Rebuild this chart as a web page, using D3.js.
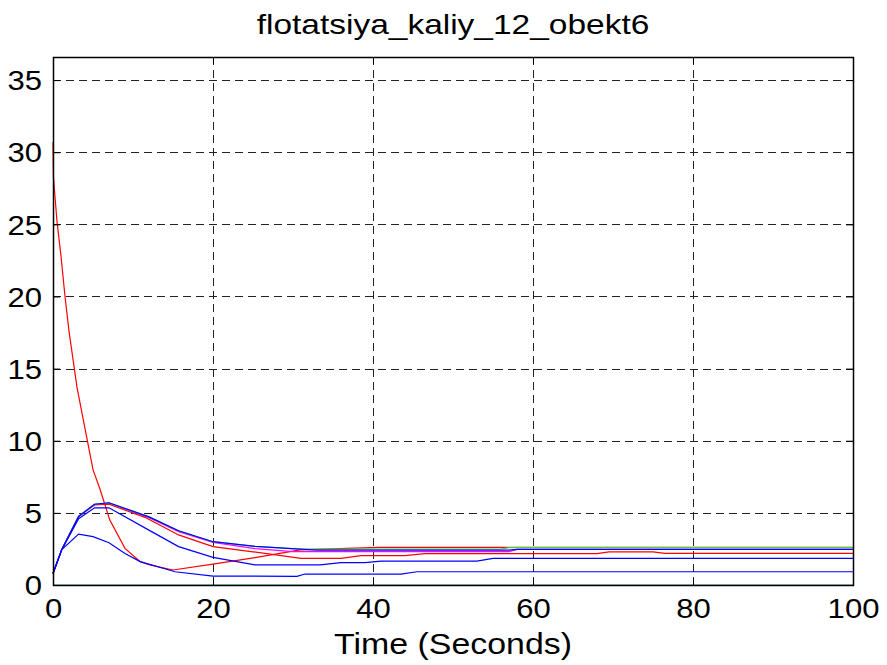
<!DOCTYPE html>
<html><head><meta charset="utf-8">
<script src="https://cdn.jsdelivr.net/npm/d3@7/dist/d3.min.js"></script>
<style>body{margin:0;background:#fff}svg{display:block}</style>
</head><body>
<svg id="c" width="887" height="665"></svg>
<script>
const title = "flotatsiya_kaliy_12_obekt6";
const xLabel = "Time (Seconds)";
const xTicks = [0, 20, 40, 60, 80, 100];
const yTicks = [0, 5, 10, 15, 20, 25, 30, 35];
const xDomain = [0, 100];
const yDomain = [0, 36.6];

// series: time points and values
const redA_t = [0, 0.05, 0.5, 1, 1.5, 2, 3, 5, 5.9, 7.1, 9, 10.9, 12.1, 15, 20, 25.25, 30.9, 40.7, 100];
const redA_v = [30.7, 28.3, 25.2, 22.8, 20, 17.6, 13.7, 8.0, 6.6, 4.5, 2.54, 1.62, 1.39, 1.04, 1.45, 1.9, 2.43, 2.61, 2.61];

const redB_t = [0, 1.1, 3.2, 5.2, 7, 11.5, 15.7, 20, 25, 31, 36, 38.5, 44, 46.5, 68, 69.5, 75, 76.5, 100];
const redB_v = [0.8, 2.47, 4.75, 5.55, 5.6, 4.69, 3.47, 2.66, 2.3, 1.85, 1.85, 2.03, 2.03, 2.17, 2.17, 2.3, 2.3, 2.19, 2.19];

const magenta_t = [0, 1.1, 3.2, 5.2, 7, 12, 15.7, 20, 25.25, 30, 57, 58, 100];
const magenta_v = [0.8, 2.47, 4.75, 5.6, 5.68, 4.67, 3.7, 2.95, 2.52, 2.31, 2.31, 2.47, 2.47];

const green_t = [0, 1.1, 3.2, 5.2, 7, 12, 15.7, 20, 25.25, 30.9, 56, 57, 100];
const green_v = [0.8, 2.47, 4.75, 5.6, 5.7, 4.72, 3.76, 3.0, 2.68, 2.49, 2.49, 2.59, 2.59];

const blueE_t = [0, 1.1, 3.2, 5.2, 7, 12, 15.7, 20, 25.25, 30.9, 33, 57, 58, 100];
const blueE_v = [0.8, 2.47, 4.75, 5.6, 5.7, 4.72, 3.76, 3.0, 2.68, 2.49, 2.42, 2.42, 2.47, 2.47];

const blueM_t = [0, 1.1, 3.2, 5.2, 7, 12.1, 15.7, 20, 25.25, 33.4, 36, 39, 41, 53, 55, 100];
const blueM_v = [0.8, 2.45, 4.6, 5.35, 5.35, 3.77, 2.66, 1.92, 1.39, 1.39, 1.55, 1.55, 1.66, 1.66, 1.85, 1.85];

const blueL_t = [0, 1.1, 3.2, 5, 7, 9, 10.9, 15.25, 20, 30.5, 31.5, 43.5, 45.5, 100];
const blueL_v = [0.8, 2.45, 3.53, 3.35, 2.93, 2.19, 1.62, 0.92, 0.62, 0.6, 0.76, 0.76, 0.92, 0.92];

const cyan_t = [0, 100];
const cyan_v = [0, 0];

const series = [
  {t: redA_t, v: redA_v, color: "#ff0000"},
  {t: redB_t, v: redB_v, color: "#ff0000"},
  {t: magenta_t, v: magenta_v, color: "#ff00ff"},
  {t: green_t, v: green_v, color: "#33dd33"},
  {t: blueE_t, v: blueE_v, color: "#0000ff"},
  {t: blueM_t, v: blueM_v, color: "#0000ff"},
  {t: blueL_t, v: blueL_v, color: "#0000ff"},
  {t: cyan_t, v: cyan_v, color: "#20a8a8"}
];

const m = {left: 53, top: 57, right: 853, bottom: 585};
const svg = d3.select("#c");
const x = d3.scaleLinear().domain(xDomain).range([m.left, m.right]);
const y = d3.scaleLinear().domain(yDomain).range([m.bottom, m.top]);
const font = "Liberation Sans, Arial, Helvetica, sans-serif";

// grid
const grid = svg.append("g").attr("stroke", "#222").attr("stroke-width", 1).attr("stroke-dasharray", "8,5");
grid.selectAll("line.gx").data(xTicks.filter(d => d > xDomain[0] && d < xDomain[1])).join("line")
  .attr("class", "gx")
  .attr("x1", d => Math.round(x(d)) + 0.5).attr("x2", d => Math.round(x(d)) + 0.5)
  .attr("y1", m.top).attr("y2", m.bottom);
grid.selectAll("line.gy").data(yTicks.filter(d => d > yDomain[0])).join("line")
  .attr("class", "gy")
  .attr("y1", d => Math.round(y(d)) + 0.5).attr("y2", d => Math.round(y(d)) + 0.5)
  .attr("x1", m.left).attr("x2", m.right);

// lines
const plot = svg.append("g");
series.forEach(s => {
  const pts = s.t.map((t, i) => [t, s.v[i]]);
  plot.append("path").datum(pts)
    .attr("fill", "none").attr("stroke", s.color).attr("stroke-width", 1.2)
    .attr("d", d3.line().x(d => x(d[0])).y(d => y(d[1])));
});

// axes
const tl = 7;
const ax = svg.append("g").attr("font-family", font);
const gBottom = ax.append("g").attr("transform", `translate(0,${m.bottom})`)
  .call(d3.axisBottom(x).tickValues(xTicks).tickSize(-tl).tickPadding(12).tickFormat(d3.format("d")));
const gTop = ax.append("g").attr("transform", `translate(0,${m.top})`)
  .call(d3.axisTop(x).tickValues(xTicks).tickSize(-tl).tickFormat(""));
const gLeft = ax.append("g").attr("transform", `translate(${m.left},0)`)
  .call(d3.axisLeft(y).tickValues(yTicks).tickSize(-tl).tickPadding(11).tickFormat(d3.format("d")));
const gRight = ax.append("g").attr("transform", `translate(${m.right},0)`)
  .call(d3.axisRight(y).tickValues(yTicks).tickSize(-tl).tickFormat(""));
[gBottom, gTop, gLeft, gRight].forEach(g => {
  g.select(".domain").remove();
  g.selectAll("line").attr("stroke", "#000");
  g.selectAll("text").attr("fill", "#000").attr("font-size", 27).attr("font-family", font);
});
gLeft.selectAll("text").attr("x", 0).attr("dy", "0.36em")
  .attr("transform", "translate(-11,0) scale(1.15,1)");
gBottom.selectAll("text").attr("y", 0).attr("dy", 0)
  .attr("transform", "translate(0,33) scale(1.15,1)");
svg.append("rect").attr("x", m.left + 0.5).attr("y", m.top + 0.5)
  .attr("width", m.right - m.left).attr("height", m.bottom - m.top)
  .attr("fill", "none").attr("stroke", "#000").attr("stroke-width", 1.5);

svg.append("text").attr("text-anchor", "middle").attr("font-family", font).attr("font-size", 27)
  .attr("transform", `translate(${(m.left + m.right) / 2},34) scale(1.24,1)`).text(title);
svg.append("text").attr("text-anchor", "middle").attr("font-family", font).attr("font-size", 30)
  .attr("transform", `translate(${(m.left + m.right) / 2},654) scale(1.13,1)`).text(xLabel);
</script>
</body></html>
